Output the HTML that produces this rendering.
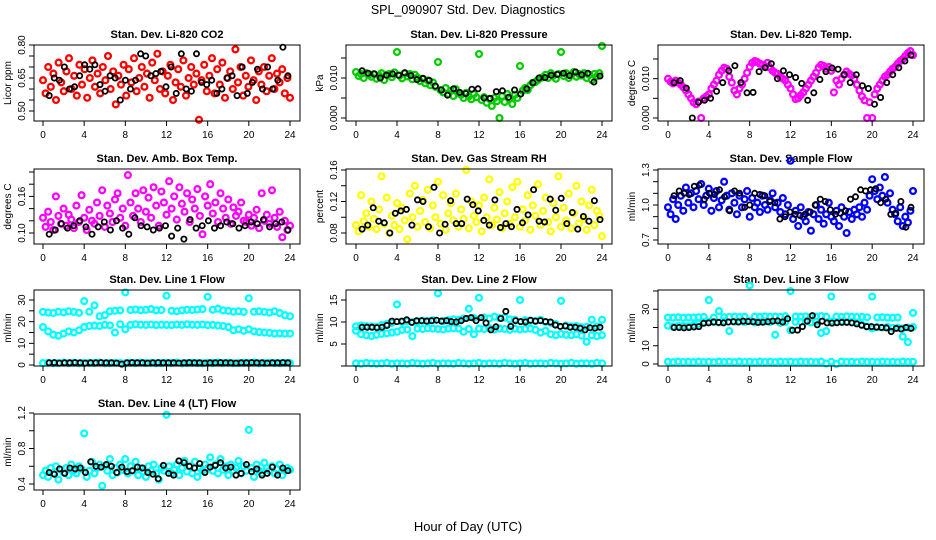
<!DOCTYPE html>
<html><head><meta charset="utf-8">
<style>
html,body{margin:0;padding:0;background:#fff;}
svg{display:block;font-family:"Liberation Sans",sans-serif;}
</style></head>
<body>
<svg id="chart" width="936" height="540" viewBox="0 0 936 540" xmlns="http://www.w3.org/2000/svg">
<rect width="936" height="540" fill="#fff"/>
<text x="468" y="14" text-anchor="middle" font-size="12.5">SPL_090907  Std. Dev. Diagnostics</text>
<text x="468" y="531" text-anchor="middle" font-size="13">Hour of Day (UTC)</text>
</svg>
<script>
const xTicks = [0,4,8,12,16,20,24];

const co2 = [0.64,0.58,0.70,0.61,0.67,0.55,0.72,0.63,0.59,0.68,0.74,0.60,0.66,0.57,0.71,0.62,0.69,0.56,0.65,0.73,0.61,0.67,0.58,0.70,0.64,0.75,0.60,0.68,0.53,0.66,0.62,0.71,0.57,0.69,0.63,0.74,0.59,0.65,0.70,0.61,0.67,0.56,0.72,0.64,0.76,0.60,0.68,0.58,0.66,0.71,0.55,0.63,0.69,0.61,0.73,0.57,0.65,0.70,0.62,0.67,0.46,0.64,0.71,0.59,0.66,0.74,0.58,0.69,0.62,0.72,0.56,0.65,0.68,0.60,0.78,0.63,0.70,0.57,0.66,0.61,0.73,0.64,0.55,0.68,0.62,0.70,0.59,0.66,0.74,0.60,0.67,0.63,0.69,0.58,0.65,0.56];
const co2K = [0.57,0.65,0.64,0.70,0.60,0.61,0.66,0.71,0.69,0.71,0.62,0.59,0.66,0.65,0.55,0.64,0.60,0.64,0.76,0.75,0.66,0.67,0.68,0.61,0.70,0.58,0.76,0.60,0.59,0.76,0.63,0.62,0.64,0.58,0.60,0.65,0.66,0.57,0.70,0.58,0.63,0.69,0.60,0.70,0.60,0.64,0.79,0.66];

const pres = [0.0115,0.0105,0.011,0.0100,0.0112,0.0108,0.0103,0.0110,0.0098,0.0106,0.0112,0.0095,0.0108,0.0110,0.0102,0.0114,0.0165,0.0106,0.0099,0.0112,0.0104,0.0110,0.0097,0.0108,0.0101,0.0092,0.0098,0.0087,0.0094,0.0082,0.0089,0.0078,0.0140,0.0070,0.0064,0.0075,0.0060,0.0068,0.0055,0.0072,0.0062,0.0058,0.0050,0.0063,0.0054,0.0047,0.0060,0.0052,0.0160,0.0045,0.0052,0.0038,0.0048,0.0030,0.0050,0.0042,0.0000,0.0055,0.0040,0.0060,0.0048,0.0035,0.0058,0.0050,0.0130,0.0068,0.0075,0.0070,0.0082,0.0088,0.0090,0.0095,0.0100,0.0102,0.0108,0.0100,0.0112,0.0106,0.0098,0.0110,0.0165,0.0105,0.0112,0.0100,0.0108,0.0115,0.0103,0.0110,0.0106,0.0112,0.0100,0.0108,0.0095,0.0110,0.0104,0.0112,0.0180];
const presK = [0.0118,0.0112,0.0110,0.0100,0.0107,0.0110,0.0107,0.0113,0.0106,0.0096,0.0099,0.0094,0.0080,0.0070,0.0057,0.0073,0.0064,0.0061,0.0072,0.0073,0.0050,0.0049,0.0066,0.0068,0.0052,0.0070,0.0060,0.0073,0.0088,0.0100,0.0101,0.0107,0.0109,0.0112,0.0106,0.0115,0.0108,0.0112,0.0090,0.0105];

const temp = [0.0100,0.0092,0.0088,0.0095,0.0090,0.0085,0.0078,0.0070,0.0060,0.0050,0.0040,0.0035,0.0042,0.0000,0.0050,0.0055,0.0060,0.0075,0.0085,0.0095,0.0110,0.0120,0.0128,0.0125,0.0105,0.0090,0.0070,0.0060,0.0075,0.0085,0.0100,0.0115,0.0130,0.0140,0.0145,0.0142,0.0138,0.0135,0.0132,0.0140,0.0128,0.0120,0.0115,0.0112,0.0105,0.0100,0.0095,0.0085,0.0075,0.0060,0.0048,0.0050,0.0058,0.0065,0.0075,0.0085,0.0095,0.0105,0.0115,0.0128,0.0135,0.0132,0.0125,0.0130,0.0120,0.0065,0.0095,0.0085,0.0100,0.0110,0.0118,0.0112,0.0108,0.0100,0.0085,0.0070,0.0055,0.0045,0.0000,0.0040,0.0000,0.0060,0.0075,0.0085,0.0095,0.0105,0.0110,0.0118,0.0125,0.0130,0.0138,0.0145,0.0150,0.0158,0.0165,0.0170,0.0160];
const tempK = [0.0090,0.0095,0.0076,0.0000,0.0040,0.0045,0.0050,0.0068,0.0090,0.0120,0.0133,0.0090,0.0064,0.0065,0.0118,0.0128,0.0138,0.0100,0.0120,0.0110,0.0103,0.0088,0.0045,0.0064,0.0098,0.0118,0.0127,0.0124,0.0110,0.0090,0.0110,0.0082,0.0075,0.0035,0.0052,0.0090,0.0110,0.0128,0.0145,0.0160];

const amb = [0.125,0.110,0.135,0.118,0.105,0.160,0.128,0.115,0.140,0.112,0.130,0.122,0.108,0.145,0.118,0.162,0.125,0.105,0.138,0.120,0.115,0.150,0.128,0.170,0.110,0.145,0.132,0.118,0.155,0.165,0.125,0.140,0.112,0.195,0.150,0.128,0.165,0.140,0.118,0.170,0.135,0.158,0.125,0.175,0.145,0.112,0.168,0.150,0.130,0.185,0.140,0.160,0.122,0.175,0.148,0.135,0.165,0.118,0.155,0.140,0.172,0.128,0.098,0.160,0.145,0.180,0.132,0.150,0.118,0.165,0.140,0.125,0.155,0.115,0.142,0.128,0.135,0.150,0.120,0.118,0.130,0.112,0.125,0.138,0.108,0.165,0.120,0.130,0.115,0.170,0.125,0.110,0.135,0.093,0.120,0.105,0.112];
const ambK = [0.098,0.105,0.115,0.108,0.112,0.120,0.110,0.098,0.110,0.118,0.105,0.120,0.108,0.098,0.125,0.112,0.110,0.105,0.108,0.112,0.095,0.108,0.090,0.122,0.108,0.112,0.120,0.108,0.112,0.118,0.115,0.108,0.112,0.118,0.115,0.122,0.110,0.115,0.118,0.105];

const rh = [0.090,0.082,0.128,0.095,0.105,0.088,0.120,0.098,0.085,0.110,0.152,0.092,0.125,0.080,0.102,0.090,0.118,0.085,0.112,0.096,0.072,0.130,0.100,0.140,0.088,0.108,0.122,0.094,0.135,0.086,0.115,0.100,0.145,0.092,0.128,0.084,0.105,0.118,0.096,0.130,0.088,0.110,0.098,0.160,0.086,0.120,0.102,0.094,0.115,0.082,0.125,0.100,0.148,0.090,0.112,0.097,0.132,0.086,0.105,0.120,0.092,0.138,0.100,0.145,0.088,0.110,0.096,0.128,0.084,0.115,0.102,0.142,0.090,0.108,0.125,0.094,0.082,0.118,0.100,0.152,0.088,0.112,0.096,0.130,0.086,0.105,0.140,0.092,0.120,0.098,0.084,0.115,0.135,0.090,0.108,0.102,0.076];
const rhK = [0.085,0.090,0.112,0.095,0.093,0.080,0.105,0.108,0.110,0.090,0.122,0.120,0.088,0.138,0.080,0.091,0.121,0.092,0.092,0.123,0.116,0.108,0.096,0.090,0.122,0.087,0.092,0.088,0.110,0.093,0.103,0.135,0.095,0.094,0.123,0.109,0.124,0.092,0.106,0.085,0.101,0.095,0.121,0.097];

const flow = [0.98,0.92,1.05,0.88,1.00,1.08,0.95,1.15,1.02,1.10,0.98,1.12,1.05,1.18,1.00,1.08,1.14,0.95,1.06,1.12,0.98,1.04,1.20,1.08,0.96,1.10,1.02,0.92,1.08,0.98,1.05,1.12,0.90,1.06,0.98,1.02,0.94,1.08,1.00,0.96,1.04,1.10,0.98,1.02,0.94,1.06,0.92,1.00,1.38,0.88,0.95,0.82,0.98,0.90,0.86,0.94,0.78,0.92,1.00,0.88,0.96,0.84,0.92,1.02,0.90,0.86,0.95,0.82,0.98,0.90,0.76,0.94,0.88,0.96,0.92,0.98,0.90,1.02,0.96,1.08,1.22,1.12,1.05,1.15,1.08,1.24,1.02,1.10,0.96,0.92,0.86,0.98,0.82,0.90,0.85,0.95,1.12];
const flowK = [1.08,1.12,1.10,1.09,1.16,1.17,1.05,1.10,1.09,1.13,1.07,0.95,1.12,1.10,0.98,1.00,1.10,1.09,1.08,1.03,1.02,0.88,0.90,0.94,0.92,0.91,0.92,0.94,1.00,1.05,1.03,0.96,0.92,0.93,0.95,1.05,1.07,1.13,1.12,1.13,1.14,1.02,1.05,0.92,0.93,1.03,0.81,0.98];

const line1Upper = [24.5,24.2,24.0,24.6,24.3,24.8,24.5,24.1,29.5,24.6,27.5,22.5,23.0,24.8,25.0,25.2,33.5,25.4,25.6,25.3,25.5,25.8,25.2,25.4,32.0,25.0,24.8,25.2,25.5,25.4,25.6,25.8,31.5,25.5,26.0,25.2,25.0,24.6,24.8,24.5,30.8,24.6,24.8,24.5,24.2,24.8,24.0,23.0,22.5];
const line1Mid = [17.5,15.5,14.0,13.5,14.5,15.5,15.0,16.0,17.5,18.0,18.2,18.0,18.5,18.3,15.0,18.8,16.5,18.5,18.8,18.6,18.5,18.7,18.4,18.6,18.5,18.4,18.7,18.5,18.8,18.6,18.5,18.7,18.4,18.5,18.2,18.0,17.5,16.0,16.5,15.8,16.5,15.5,15.2,15.0,14.8,14.5,14.6,14.5,14.5];
const line1Low = [0.9,1.0,0.8,0.9,1.1,0.9,1.0,0.8,0.9,1.0,0.9,1.1,0.8,0.9,1.0,0.9,0.8,1.0,0.9,1.1,0.9,1.0,0.8,0.9,1.0,0.9,1.1,0.8,0.9,1.0,0.9,0.8,1.0,0.9,1.1,0.9,1.0,0.8,0.9,1.0,0.9,1.1,0.8,0.9,1.0,0.9,0.8,1.0,0.9];
const line1K = [1.0,1.1,0.9,1.0,1.0,1.1,1.0,0.9,1.0,1.0,1.1,1.0,1.0,0.9,0.4,1.0,1.1,1.0,1.0,0.9,1.0,1.1,1.0,1.0,1.0,0.9,1.0,1.1,1.0,1.0,0.9,1.0,1.0,1.1,1.0,1.0,0.9,1.0,1.0,1.1,1.0,1.0,0.9,1.0,1.0,1.1,1.0];

const line2A = [9.0,9.2,9.1,9.0,8.9,9.3,9.5,9.8,14.0,10.0,10.2,10.0,10.1,10.3,10.2,10.4,16.5,10.2,10.4,10.6,10.5,10.8,13.0,10.9,15.5,11.0,10.8,11.2,10.9,11.0,10.6,10.5,15.0,10.4,10.3,10.2,10.5,10.0,9.8,9.5,14.8,9.2,9.0,9.1,8.8,8.9,10.5,9.0,10.5];
const line2B = [8.0,7.2,7.0,6.8,7.1,7.3,7.4,7.6,7.8,8.2,8.3,6.8,8.5,8.4,8.6,8.5,8.4,8.3,8.5,8.6,8.5,7.8,8.4,7.2,8.5,8.4,8.6,8.3,8.5,8.4,8.2,8.5,8.3,8.4,8.5,8.2,7.6,8.0,7.2,7.0,7.3,7.1,7.0,7.2,6.9,5.5,7.0,6.8,7.0];
const line2Low = [0.6,0.5,0.7,0.6,0.5,0.6,0.7,0.5,0.6,0.6,0.5,0.7,0.6,0.5,0.6,0.7,0.5,0.6,0.6,0.5,0.7,0.6,0.5,0.6,0.7,0.5,0.6,0.6,0.5,0.7,0.6,0.5,0.6,0.7,0.5,0.6,0.6,0.5,0.7,0.6,0.5,0.6,0.7,0.5,0.6,0.6,0.5,0.7,0.6];
const line2K = [8.8,8.8,8.8,8.7,8.8,9.2,10.2,10.1,10.2,10.5,9.9,10.3,10.3,10.2,10.3,10.4,10.2,10.3,10.1,10.0,10.3,10.8,11.0,10.3,11.0,9.8,8.2,8.9,10.8,12.4,9.0,10.3,10.1,10.0,10.4,10.2,10.3,10.1,10.0,9.3,9.0,9.1,8.8,8.8,8.6,8.2,8.7,8.6,8.8];

const line3A = [25.5,25.4,25.6,25.3,25.5,25.4,25.6,25.8,35.0,25.5,29.0,25.6,25.8,26.0,25.7,25.9,43.0,26.0,25.8,26.1,25.9,26.0,25.8,26.2,40.0,26.0,25.9,26.1,25.8,26.0,26.2,25.9,37.0,26.0,25.8,26.1,25.9,25.7,25.8,25.6,37.0,25.5,25.6,25.4,25.3,25.5,15.0,12.0,28.0];
const line3B = [21.0,20.5,20.8,21.0,20.7,21.2,22.0,23.0,23.2,23.0,22.8,23.4,18.0,23.2,23.3,23.0,23.5,22.8,23.2,23.4,23.0,16.0,22.5,23.0,18.5,23.2,23.0,23.4,22.8,23.2,17.0,18.0,23.3,23.0,23.4,23.2,23.0,22.8,21.5,20.5,19.5,20.2,20.0,20.3,19.8,20.0,19.5,20.0,20.2];
const line3Low = [1.2,1.0,1.3,1.1,1.2,1.0,1.3,1.1,1.2,1.0,1.3,1.1,1.2,1.0,1.3,1.1,1.2,1.0,1.3,1.1,1.2,1.0,1.3,1.1,1.2,1.0,1.3,1.1,1.2,1.0,1.3,0.3,1.2,0.0,1.3,1.1,1.2,1.0,1.3,1.1,1.2,1.0,1.3,1.1,1.2,1.0,1.3,1.1,1.2];
const line3K = [20.0,20.0,19.8,20.0,20.3,20.5,22.3,22.5,23.0,22.8,22.5,23.0,23.2,23.0,23.5,23.3,23.2,22.8,22.9,23.2,23.5,23.6,23.0,24.8,18.5,18.6,20.5,23.5,26.5,21.5,23.5,22.5,22.4,22.6,22.8,22.8,22.5,22.0,21.2,20.5,20.5,20.2,20.0,19.8,17.8,19.5,19.2,20.0,19.5];

const line4 = [0.50,0.55,0.48,0.58,0.52,0.60,0.45,0.56,0.53,0.58,0.50,0.62,0.55,0.52,0.60,0.57,0.97,0.48,0.55,0.65,0.52,0.58,0.62,0.38,0.60,0.55,0.68,0.50,0.58,0.53,0.62,0.56,0.68,0.52,0.60,0.55,0.65,0.50,0.58,0.54,0.48,0.60,0.55,0.62,0.52,0.45,0.58,0.55,1.18,0.60,0.52,0.56,0.62,0.50,0.58,0.66,0.54,0.60,0.52,0.65,0.48,0.58,0.55,0.62,0.58,0.70,0.55,0.62,0.52,0.68,0.56,0.60,0.50,0.62,0.55,0.58,0.66,0.52,0.60,0.55,1.01,0.58,0.48,0.62,0.55,0.52,0.64,0.58,0.55,0.60,0.52,0.57,0.62,0.50,0.55,0.58,0.56];
const line4K = [0.53,0.51,0.57,0.52,0.58,0.57,0.58,0.53,0.65,0.60,0.59,0.62,0.60,0.53,0.59,0.54,0.55,0.59,0.58,0.53,0.51,0.46,0.61,0.52,0.50,0.66,0.64,0.60,0.58,0.63,0.53,0.59,0.61,0.64,0.58,0.59,0.50,0.52,0.62,0.54,0.57,0.50,0.52,0.59,0.50,0.58,0.55];

const NS = "http://www.w3.org/2000/svg";
const svg = document.getElementById('chart');
const cols = [{l:34,r:300,h0:43,h24:290},{l:346,r:612,h0:356,h24:602},{l:658,r:924,h0:668,h24:913}];
const rows = [{t:45,b:121},{t:169,b:244},{t:290,b:366},{t:414,b:490}];

function mk(tag, attrs, parent){
  const e = document.createElementNS(NS, tag);
  for (const k in attrs) e.setAttribute(k, attrs[k]);
  (parent||svg).appendChild(e);
  return e;
}

const panels = [
 {name:'li820-co2',title:'Stan. Dev. Li-820 CO2',ylab:'Licor ppm',c:0,r:0,v1:0.5,p1:111,v2:0.8,p2:45,ticks:[0.5,0.55,0.6,0.65,0.7,0.75,0.8],labels:['0.50','0.65','0.80'],labelVals:[0.5,0.65,0.8],series:[{d:co2,col:'#ff0000'}],black:co2K},
 {name:'li820-pressure',title:'Stan. Dev. Li-820 Pressure',ylab:'kPa',c:1,r:0,v1:0,p1:118,v2:0.015,p2:58,ticks:[0,0.005,0.01,0.015],labels:['0.000','0.010'],labelVals:[0,0.01],series:[{d:pres,col:'#00cc00'}],black:presK},
 {name:'li820-temp',title:'Stan. Dev. Li-820 Temp.',ylab:'degrees C',c:2,r:0,v1:0,p1:118,v2:0.015,p2:59,ticks:[0,0.005,0.01,0.015],labels:['0.000','0.010'],labelVals:[0,0.01],series:[{d:temp,col:'#ff00ff'}],black:tempK},
 {name:'amb-box-temp',title:'Stan. Dev. Amb. Box Temp.',ylab:'degrees C',c:0,r:1,v1:0.1,p1:233,v2:0.2,p2:172,ticks:[0.1,0.12,0.14,0.16,0.18,0.2],labels:['0.10','0.16'],labelVals:[0.1,0.16],series:[{d:amb,col:'#ff00ff'}],black:ambK},
 {name:'gas-stream-rh',title:'Stan. Dev. Gas Stream RH',ylab:'percent',c:1,r:1,v1:0.08,p1:233,v2:0.16,p2:170,ticks:[0.08,0.1,0.12,0.14,0.16],labels:['0.08','0.12','0.16'],labelVals:[0.08,0.12,0.16],series:[{d:rh,col:'#ffff00'}],black:rhK},
 {name:'sample-flow',title:'Stan. Dev. Sample Flow',ylab:'ml/min',c:2,r:1,v1:0.7,p1:240,v2:1.3,p2:170,ticks:[0.7,0.8,0.9,1.0,1.1,1.2,1.3],labels:['0.7','1.0','1.3'],labelVals:[0.7,1.0,1.3],series:[{d:flow,col:'#0000ff'}],black:flowK},
 {name:'line1-flow',title:'Stan. Dev. Line 1 Flow',ylab:'ml/min',c:0,r:2,v1:0,p1:365,v2:30,p2:300,ticks:[0,5,10,15,20,25,30],labels:['0','10','20','30'],labelVals:[0,10,20,30],series:[{d:line1Upper,col:'#00ffff'},{d:line1Mid,col:'#00ffff'},{d:line1Low,col:'#00ffff'}],black:line1K},
 {name:'line2-flow',title:'Stan. Dev. Line 2 Flow',ylab:'ml/min',c:1,r:2,v1:0,p1:366,v2:15,p2:300,ticks:[0,5,10,15],labels:['5','10','15'],labelVals:[5,10,15],series:[{d:line2A,col:'#00ffff'},{d:line2B,col:'#00ffff'},{d:line2Low,col:'#00ffff'}],black:line2K},
 {name:'line3-flow',title:'Stan. Dev. Line 3 Flow',ylab:'ml/min',c:2,r:2,v1:0,p1:364,v2:40,p2:291,ticks:[0,10,20,30,40],labels:['0','10','30'],labelVals:[0,10,30],series:[{d:line3A,col:'#00ffff'},{d:line3B,col:'#00ffff'},{d:line3Low,col:'#00ffff'}],black:line3K},
 {name:'line4-lt-flow',title:'Stan. Dev. Line 4 (LT) Flow',ylab:'ml/min',c:0,r:3,v1:0.4,p1:484,v2:1.2,p2:413,ticks:[0.4,0.6,0.8,1.0,1.2],labels:['0.4','0.8','1.2'],labelVals:[0.4,0.8,1.2],series:[{d:line4,col:'#00ffff'}],black:line4K}
];

panels.forEach(p => {
  const C = cols[p.c], R = rows[p.r];
  const xs = h => C.h0 + (C.h24 - C.h0) * h / 24;
  const ys = v => p.p1 + (p.p2 - p.p1) * (v - p.v1) / (p.v2 - p.v1);
  const g = mk('g', {});
  
  
  const t = mk('text', {x:(C.l+C.r)/2, y:R.t-7, 'text-anchor':'middle', 'font-size':'11', 'font-weight':'bold'}, g);
  t.textContent = p.title;
  
  
  const pts = mk('g', {fill:'none'}, g);
  
  
  p.series.forEach(s => {
    const n = s.d.length;
    s.d.forEach((v,i) => {
      const c = mk('circle', {cx:xs(i*24/(n-1)).toFixed(1), cy:ys(v).toFixed(1), r:'2.9', stroke:s.col, 'stroke-width':'2.3'}, pts);
      
      
    });
  });
  const nk = p.black.length;
  p.black.forEach((v,i) => {
    const c = mk('circle', {cx:xs(0.6 + i*23.2/(nk-1)).toFixed(1), cy:ys(v).toFixed(1), r:'2.6', stroke:'#000', 'stroke-width':'1.8'}, pts);
    
    
  });
  const box = mk('rect', {x:C.l, y:R.t, width:C.r-C.l, height:R.b-R.t, fill:'none', stroke:'#000', 'stroke-width':'1'}, g);
  
  
  xTicks.forEach(h => {
    const x = xs(h);
    const tk = mk('line', {x1:x, x2:x, y1:R.b, y2:R.b+5, stroke:'#000'}, g);
    
    
    const tl = mk('text', {x:x, y:R.b+17, 'text-anchor':'middle', 'font-size':'10'}, g);
    tl.textContent = h;
    
    
  });
  p.ticks.forEach(v => {
    const y = ys(v);
    const tk = mk('line', {x1:C.l-5, x2:C.l, y1:y, y2:y, stroke:'#000'}, g);
    
    
  });
  p.labelVals.forEach((v,i) => {
    const y = ys(v);
    const tl = mk('text', {x:0, y:0, transform:`translate(${C.l-9},${y}) rotate(-90)`, 'text-anchor':'middle', 'font-size':'10'}, g);
    tl.textContent = p.labels[i];
    
    
  });
  const yl = mk('text', {x:0, y:0, transform:`translate(${C.l-23},${(R.t+R.b)/2}) rotate(-90)`, 'text-anchor':'middle', 'font-size':'10'}, g);
  yl.textContent = p.ylab;
  
  
});
</script>
</body></html>
